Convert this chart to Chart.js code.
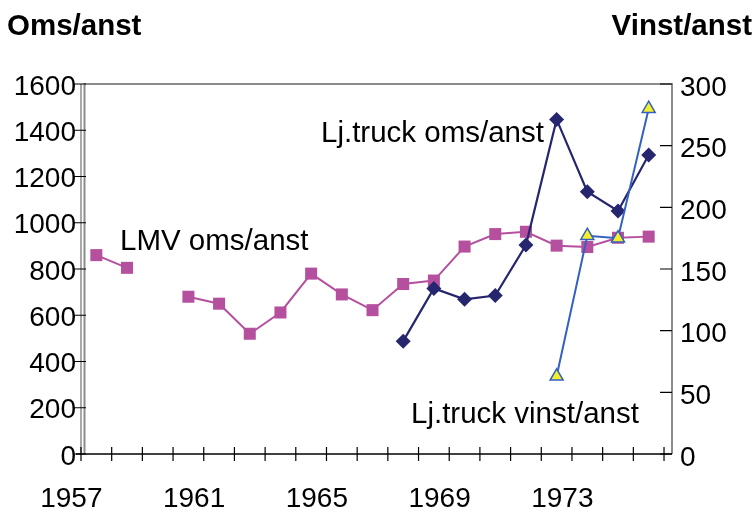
<!DOCTYPE html>
<html>
<head>
<meta charset="utf-8">
<script src="https://cdn.jsdelivr.net/npm/chart.js@4/dist/chart.umd.min.js"></script>
<style>
html,body{margin:0;padding:0;background:#fff;}
#wrap{width:756px;height:513px;position:relative;}
</style>
</head>
<body>
<div id="wrap"><canvas id="c" width="756" height="513"></canvas></div>
<script>
// ---- data ----
const years = [1957,1958,1959,1960,1961,1962,1963,1964,1965,1966,1967,1968,1969,1970,1971,1972,1973,1974,1975];
const lmvOmsAnst = [860,805,null,680,650,520,612,780,690,622,735,750,897,951,961,901,895,935,940];
const ljTruckOmsAnst = [null,null,null,null,null,null,null,null,null,null,488,716,669,685,904,1447,1134,1051,1293];
const ljTruckVinstAnst = [null,null,null,null,null,null,null,null,null,null,null,null,null,null,null,63,177,175,280];
const xTickYears = [1957,1961,1965,1969,1973];
const leftTicks = [0,200,400,600,800,1000,1200,1400,1600];
const rightTicks = [0,50,100,150,200,250,300];
const leftTitle = 'Oms/anst';
const rightTitle = 'Vinst/anst';
const seriesNames = ['LMV oms/anst','Lj.truck oms/anst','Lj.truck vinst/anst'];

const FONT = '"Liberation Sans", Arial, Helvetica, sans-serif';
const toPoints = arr => years.map((y,i) => ({x:y, y:arr[i]}));

const decor = {
  id: 'decor',
  beforeDatasetsDraw(chart) {
    const {ctx, chartArea: a, scales} = chart;
    ctx.save();
    // gray frame (double line on the left)
    ctx.strokeStyle = '#8c8c8c';
    ctx.lineWidth = 2;
    ctx.beginPath();
    ctx.moveTo(a.left + 3.5, a.bottom);
    ctx.lineTo(a.left + 3.5, a.top);
    ctx.lineTo(a.right, a.top);
    ctx.lineTo(a.right, a.bottom);
    ctx.stroke();
    ctx.lineWidth = 1.5;
    ctx.beginPath();
    ctx.moveTo(a.left, a.bottom);
    ctx.lineTo(a.left, a.top);
    ctx.stroke();
    // x axis line
    ctx.strokeStyle = '#000';
    ctx.lineWidth = 1.5;
    ctx.beginPath();
    ctx.moveTo(a.left - 5, a.bottom);
    ctx.lineTo(a.right, a.bottom);
    ctx.stroke();
    // tick marks
    ctx.lineWidth = 1.2;
    ctx.beginPath();
    scales.y.ticks.forEach(t => {
      const py = scales.y.getPixelForValue(t.value);
      ctx.moveTo(a.left - 8, py); ctx.lineTo(a.left + 5, py);
    });
    scales.y1.ticks.forEach(t => {
      const py = scales.y1.getPixelForValue(t.value);
      ctx.moveTo(a.right - 12, py); ctx.lineTo(a.right, py);
    });
    const bounds = years.map(y => y - 0.5).concat([years[years.length-1] + 0.5]);
    bounds.forEach(v => {
      const px = scales.x.getPixelForValue(v);
      ctx.moveTo(px, a.bottom - 7); ctx.lineTo(px, a.bottom + 7);
    });
    ctx.stroke();
    ctx.restore();
  },
  afterDraw(chart) {
    const {ctx} = chart;
    ctx.save();
    ctx.fillStyle = '#000';
    ctx.textBaseline = 'alphabetic';
    ctx.font = 'bold 29.5px ' + FONT;
    ctx.textAlign = 'left';
    ctx.fillText(leftTitle, 7, 35);
    ctx.textAlign = 'right';
    ctx.fillText(rightTitle, 752, 35);
    ctx.font = '29.5px ' + FONT;
    ctx.textAlign = 'left';
    ctx.fillText(seriesNames[0], 120, 250);
    ctx.fillText(seriesNames[1], 321, 142);
    ctx.fillText(seriesNames[2], 411, 423);
    ctx.restore();
  }
};

new Chart(document.getElementById('c'), {
  type: 'line',
  data: {
    datasets: [
      {
        label: seriesNames[0],
        data: toPoints(lmvOmsAnst),
        yAxisID: 'y',
        borderColor: '#b5509f',
        backgroundColor: '#b5509f',
        borderWidth: 2,
        pointStyle: 'rect',
        pointRadius: 8.5,
        pointBorderWidth: 0,
        spanGaps: false,
        order: 2
      },
      {
        label: seriesNames[1],
        data: toPoints(ljTruckOmsAnst),
        yAxisID: 'y',
        borderColor: '#26266f',
        backgroundColor: '#26266f',
        borderWidth: 2.2,
        pointStyle: 'rectRot',
        pointRadius: 7.5,
        pointBorderWidth: 0,
        order: 1
      },
      {
        label: seriesNames[2],
        data: toPoints(ljTruckVinstAnst),
        yAxisID: 'y1',
        borderColor: '#3461c1',
        backgroundColor: '#f3ef2c',
        pointBorderColor: '#3461c1',
        borderWidth: 2,
        pointStyle: 'triangle',
        pointRadius: 7.5,
        pointBorderWidth: 1.5,
        order: 0
      }
    ]
  },
  options: {
    responsive: false,
    animation: false,
    devicePixelRatio: 1,
    layout: { padding: { top: 84, left: 0, right: 0, bottom: 0 } },
    plugins: { legend: { display: false }, tooltip: { enabled: false }, title: { display: false } },
    scales: {
      x: {
        type: 'linear',
        position: 'bottom',
        min: 1956.5,
        max: 1975.76,
        afterBuildTicks: s => { s.ticks = xTickYears.map(v => ({value: v})); },
        afterFit: s => { s.height = 59; },
        grid: { display: false, drawTicks: false },
        border: { display: false },
        ticks: {
          autoSkip: false, maxRotation: 0, padding: 28, labelOffset: -25,
          color: '#000', font: { family: FONT, size: 28 },
          callback: v => String(v)
        }
      },
      y: {
        type: 'linear',
        position: 'left',
        min: 0, max: 1600,
        afterBuildTicks: s => { s.ticks = leftTicks.map(v => ({value: v})); },
        afterFit: s => { s.width = 81; },
        grid: { display: false, drawTicks: false },
        border: { display: false },
        ticks: { padding: 5, labelOffset: 3, color: '#000', font: { family: FONT, size: 28 }, callback: v => String(v) }
      },
      y1: {
        type: 'linear',
        position: 'right',
        min: 0, max: 300,
        afterBuildTicks: s => { s.ticks = rightTicks.map(v => ({value: v})); },
        afterFit: s => { s.width = 84; },
        grid: { display: false, drawTicks: false },
        border: { display: false },
        ticks: { padding: 8, labelOffset: 4, color: '#000', font: { family: FONT, size: 28 }, callback: v => String(v) }
      }
    }
  },
  plugins: [decor]
});
</script>
</body>
</html>
